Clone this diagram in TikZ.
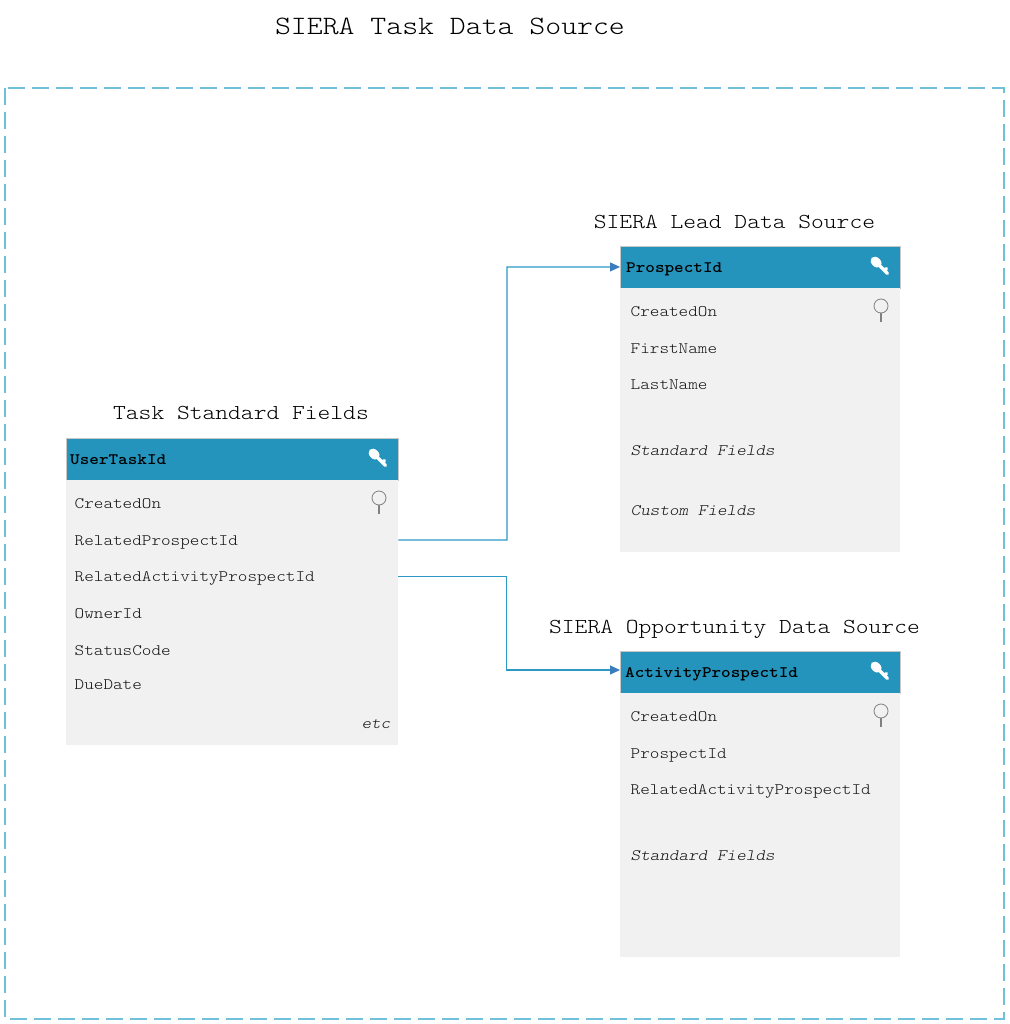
\documentclass[tikz,border=0pt]{standalone}
\usepackage{fontspec}
\setmonofont{Latin Modern Mono Light}[FakeStretch=1.143]
\usetikzlibrary{arrows.meta, positioning}
\definecolor{headblue}{HTML}{2494BD}
\definecolor{bodygrey}{HTML}{F1F1F1}
\definecolor{frameblue}{HTML}{6FC0D8}
\definecolor{linkblue}{HTML}{2B98C6}
\definecolor{tipblue}{HTML}{3A7DBE}
\tikzset{TableDiagram/.style={
    x = 1pt, y = -1pt,
    node distance = 0pt,
    frame/.style = {draw=frameblue, line width=1.4pt, dash pattern=on 17pt off 7pt},
    heading/.style = {font=\fontsize{21.3}{24}\selectfont\ttfamily, text=black, inner sep=0pt},
    head/.style = {draw=black!22, fill=headblue, anchor=north west, inner sep=0pt, minimum height=41.5pt, minimum width=##1},
    headlabel/.style = {anchor=west, inner sep=0pt, text height=11pt, text depth=1pt, text=black, font=\fontsize{16}{18}\selectfont\ttfamily\bfseries},
    tablebody/.style = {fill=bodygrey, inner sep=0pt, minimum width=##1},
    row/.style = {anchor=west, inner sep=0pt, text height=11pt, text depth=1pt, text=black!92, font=\fontsize{16}{18}\selectfont\ttfamily},
    fieldgroup/.style = {row, font=\fontsize{16}{18}\selectfont\ttfamily\itshape},
    link/.style = {draw=linkblue, line width=1.1pt, -{Triangle[length=10pt, width=9pt, color=tipblue]}},
    keyicon/.pic = {
        \draw [white, line width=3.4pt, line cap=round] (-2,-2) -- (7.5,7.5) (4.5,4.5) -- (6.5,2.5);
        \fill [white, rotate=-45] (-5.5,0) ellipse (6.2 and 4.6);
    },
    pinicon/.pic = {
        \draw [black!50, line width=0.8pt] (0,-7) circle (7);
        \draw [black!50, line width=1.1pt] (0,0) -- (0,9);
    }
}}

\begin{document}
\begin{tikzpicture}[TableDiagram]
    \useasboundingbox (0,0) rectangle (1009,1024);
    \draw [frame] (5,88) rectangle (1004,1019);

    \node [heading, font=\fontsize{26.5}{30}\selectfont\ttfamily] (SourceTitle) at (450,26.5) {SIERA Task Data Source};
    \node [heading] (TaskTitle) at (241,413) {Task Standard Fields};
    \node [heading] (LeadTitle) at (734.5,222) {SIERA Lead Data Source};
    \node [heading] (OppTitle) at (734.5,629) {SIERA Opportunity Data Source};

    % task table
    \node [head=332pt] (TaskHead) at (66,438) {};
    \node [headlabel] (TaskKey) at (70,459) {UserTaskId};
    \node [tablebody=332pt, minimum height=264.5pt, below=0pt of TaskHead] (TaskBody) {};
    \node [row] (TaskCreated) at (74.5,503.5) {CreatedOn};
    \node [row] (TaskProspect) at (74.5,540) {RelatedProspectId};
    \node [row] (TaskActivity) at (74.5,576.9) {RelatedActivityProspectId};
    \node [row] (TaskOwner) at (74.5,613.5) {OwnerId};
    \node [row] (TaskStatus) at (74.5,650.5) {StatusCode};
    \node [row] (TaskDue) at (74.5,684.5) {DueDate};
    \node [fieldgroup, anchor=east] (TaskEtc) at (390.5,723.5) {etc};

    % lead table
    \node [head=280pt] (LeadHead) at (620,246) {};
    \node [headlabel] (LeadKey) at (626,267) {ProspectId};
    \node [tablebody=280pt, minimum height=264pt, below=0pt of LeadHead] (LeadBody) {};
    \node [row] (LeadCreated) at (630.5,311.5) {CreatedOn};
    \node [row] (LeadFirst) at (630.5,348) {FirstName};
    \node [row] (LeadLast) at (630.5,384.5) {LastName};
    \node [fieldgroup] (LeadStandard) at (630.5,450.5) {Standard Fields};
    \node [fieldgroup] (LeadCustom) at (630.5,510.5) {Custom Fields};

    % opportunity table
    \node [head=280pt] (OppHead) at (620,651) {};
    \node [headlabel] (OppKey) at (625,672) {ActivityProspectId};
    \node [tablebody=280pt, minimum height=264pt, below=0pt of OppHead] (OppBody) {};
    \node [row] (OppCreated) at (630.5,716.5) {CreatedOn};
    \node [row] (OppProspect) at (630.5,753) {ProspectId};
    \node [row] (OppActivity) at (630.5,789.5) {RelatedActivityProspectId};
    \node [fieldgroup] (OppStandard) at (630.5,855.5) {Standard Fields};

    \pic at (880,266) {keyicon};
    \pic at (881,313) {pinicon};
    \pic at (378,458) {keyicon};
    \pic at (379,505) {pinicon};
    \pic at (880,671) {keyicon};
    \pic at (881,718) {pinicon};

    \coordinate (LeadBend) at (507,267);
    \coordinate (OppBend) at (506.5,670);
    \coordinate (OppEntry) at (620,670);

    \draw [link] (TaskBody.east |- TaskProspect) -- (LeadBend |- TaskProspect) -- (LeadBend) -- (LeadHead.west);
    \draw [link] (TaskBody.east |- TaskActivity) -- (OppBend |- TaskActivity) -- (OppBend) -- (OppEntry);
\end{tikzpicture}
\end{document}
